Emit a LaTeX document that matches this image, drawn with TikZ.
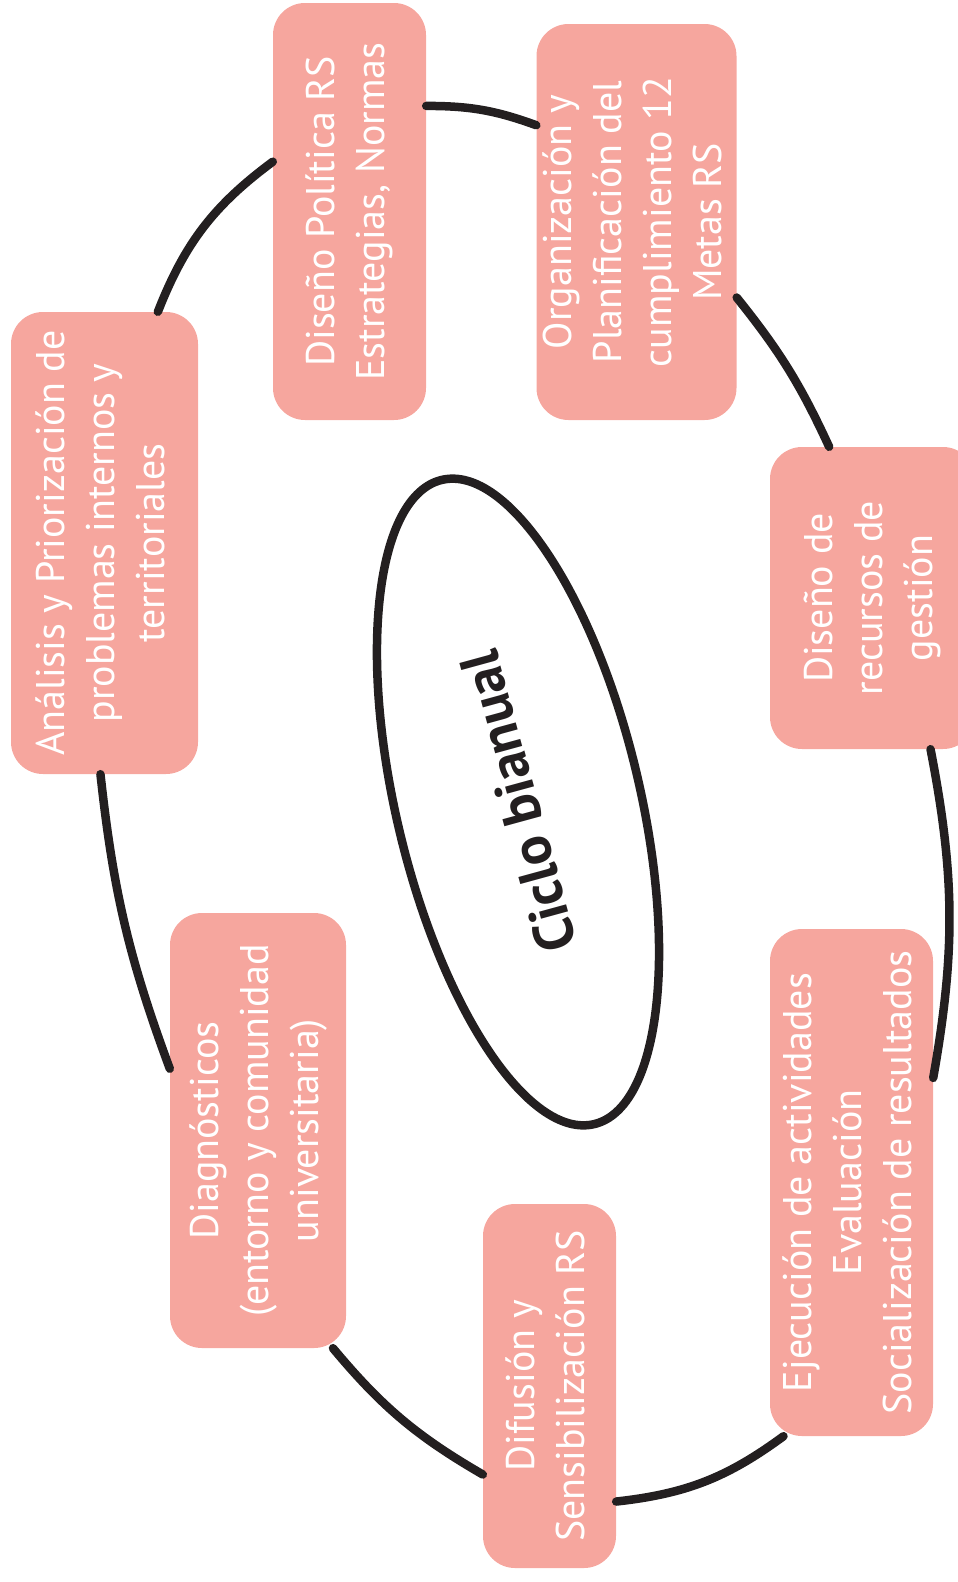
\documentclass[tikz,border=0pt]{standalone}
\usepackage{fontspec}
\setmainfont{PT Sans}
\usetikzlibrary{shapes.geometric}
\definecolor{boxfill}{HTML}{F6A69E}
\definecolor{ink}{HTML}{231F20}
\newcommand{\stagetext}[1]{\rotatebox{90}{\begin{tabular}{@{}c@{}}#1\end{tabular}}}
\tikzset{
  stage/.style={rectangle, rounded corners=32pt, fill=boxfill, text=white, inner sep=0pt,
    font=\fontsize{40}{50}\selectfont},
  link/.style={draw=ink, line width=8.5pt, line cap=round},
  hub/.style={ellipse, draw=ink, line width=8.5pt, inner sep=0pt, text=ink,
    font=\fontsize{56}{60}\selectfont\bfseries},
}
\begin{document}
\begin{tikzpicture}[x=1pt,y=1pt]
\useasboundingbox (0,0) rectangle (958,-1582);
\node[stage, minimum width=153pt, minimum height=417pt] (b1) at (349.5,-211.5)
  {\stagetext{Diseño Política RS\\Estrategias, Normas}};
\node[stage, minimum width=199pt, minimum height=396pt] (b2) at (636.5,-222)
  {\stagetext{Organización y\\Planificación del\\cumplimiento 12\\Metas RS}};
\node[stage, minimum width=205pt, minimum height=302pt] (b3) at (872.5,-598)
  {\stagetext{Diseño de\\recursos de\\gestión}};
\node[stage, minimum width=163pt, minimum height=507pt] (b4) at (851.5,-1182.5)
  {\stagetext{Ejecución de actividades\\Evaluación\\Socialización de resultados}};
\node[stage, minimum width=133pt, minimum height=364pt] (b5) at (549.5,-1386)
  {\stagetext{Difusión y\\Sensibilización RS}};
\node[stage, minimum width=176pt, minimum height=435pt] (b6) at (258,-1130.5)
  {\stagetext{Diagnósticos\\(entorno y comunidad\\universitaria)}};
\node[stage, minimum width=187pt, minimum height=462pt] (b7) at (104.5,-543)
  {\stagetext{Análisis y Priorización de\\problemas internos y\\territoriales}};
\node[hub, minimum width=244pt, minimum height=662pt, rotate=13.3] (cyc) at (518,-802)
  {\rotatebox{92}{Ciclo bianual}};
\draw[link] (b1.54.8) to[bend left=10] (b2.136.3);
\draw[link] (b2.-37) to[bend left=7] (b3.106.4);
\draw[link] (b3.-69.8) to[bend left=10.5] (b4.52.3);
\draw[link] (b4.-105.3) to[bend left=15] (b5.-60.8);
\draw[link] (b5.-127.4) to[bend left=10] (b6.-71.7);
\draw[link] (b6.145.1) to[bend left=7] (b7.-91.9);
\draw[link] (b7.77.1) to[bend left=16] (b1.147.2);
\end{tikzpicture}
\end{document}
